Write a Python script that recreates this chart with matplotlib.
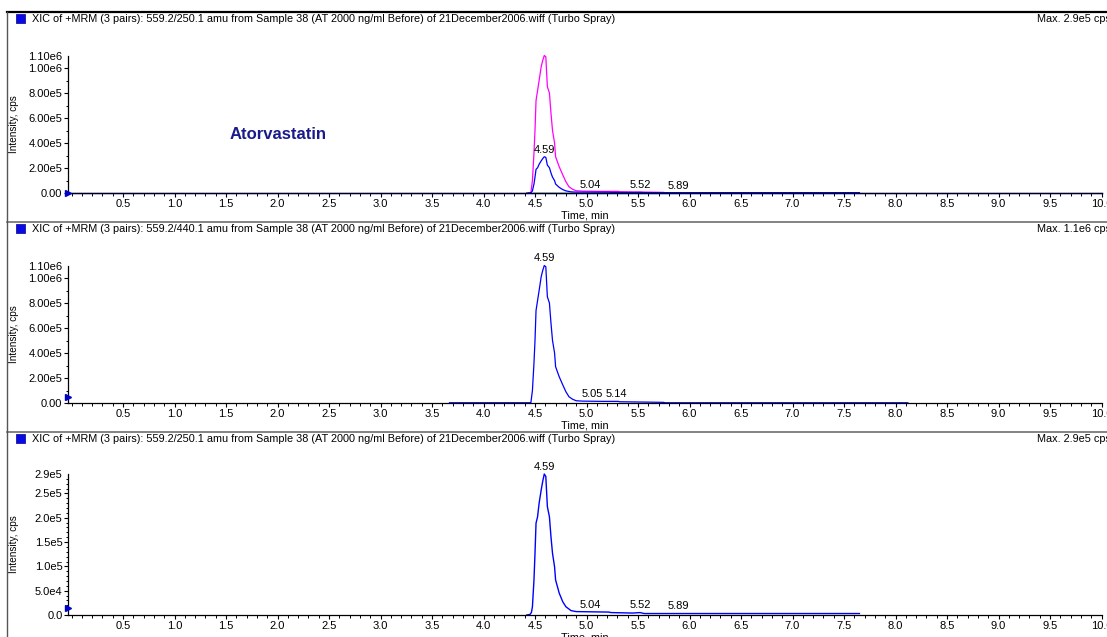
import numpy as np
import matplotlib
matplotlib.use("Agg")
import matplotlib.pyplot as plt
from matplotlib.ticker import MultipleLocator
from matplotlib.patches import Rectangle
from matplotlib.lines import Line2D

plt.rcParams['font.family'] = ['Liberation Sans', 'DejaVu Sans']

# ---------------- data ----------------
# 559.2/250.1 transition (cps)
time_250 = [4.42, 4.45, 4.465, 4.475, 4.49, 4.50, 4.51, 4.525, 4.54, 4.56, 4.575,
            4.59, 4.605, 4.62, 4.64, 4.655, 4.67, 4.69, 4.70, 4.735, 4.77, 4.80,
            4.85, 4.90, 5.22, 5.235, 5.45, 5.52, 5.56, 7.65]
int_250 = [0.0, 1e3, 5e3, 1.7e4, 7.2e4, 1.27e5, 1.89e5, 2.02e5, 2.30e5, 2.57e5, 2.75e5,
           2.90e5, 2.85e5, 2.23e5, 2.02e5, 1.61e5, 1.27e5, 9.9e4, 7.2e4, 4.5e4, 2.7e4, 1.7e4,
           9e3, 7e3, 6e3, 5e3, 4e3, 5e3, 3e3, 3e3]

# 559.2/440.1 transition (cps)
time_440 = [3.67, 4.44, 4.46, 4.475, 4.49, 4.50, 4.51, 4.525, 4.54, 4.56, 4.575,
            4.59, 4.605, 4.62, 4.64, 4.655, 4.67, 4.69, 4.70, 4.735, 4.77, 4.80,
            4.83, 4.865, 4.90, 4.96, 5.15, 5.31, 5.32, 5.60, 5.75, 5.76, 8.12]
int_440 = [2e3, 2e3, 3e3, 1.0e5, 3.2e5, 5.0e5, 7.4e5, 8.2e5, 9.0e5, 1.01e6, 1.06e6,
           1.10e6, 1.09e6, 8.5e5, 8.0e5, 6.4e5, 5.0e5, 4.0e5, 2.9e5, 2.1e5, 1.44e5, 9.0e4,
           5.0e4, 3.0e4, 1.8e4, 1.5e4, 1.3e4, 1.3e4, 1.0e4, 7e3, 5e3, 2e3, 2e3]

# window of the 440.1 overlay that shows in the top panel
overlay_window = [4.44, 5.85]

# third pair (flat) and integration baseline
third_time = [0.0, 10.0]
third_int = [0.0, 0.0]
integ_time = [4.48, 4.87]
integ_int = [0.0, 0.0]

headers = [
    "XIC of +MRM (3 pairs): 559.2/250.1 amu from Sample 38 (AT 2000 ng/ml Before) of 21December2006.wiff (Turbo Spray)",
    "XIC of +MRM (3 pairs): 559.2/440.1 amu from Sample 38 (AT 2000 ng/ml Before) of 21December2006.wiff (Turbo Spray)",
    "XIC of +MRM (3 pairs): 559.2/250.1 amu from Sample 38 (AT 2000 ng/ml Before) of 21December2006.wiff (Turbo Spray)",
]
max_labels = ["Max. 2.9e5 cps", "Max. 1.1e6 cps", "Max. 2.9e5 cps"]
y_tops = [1.10e6, 1.10e6, 2.9e5]

ytick_vals_a = [0, 2e5, 4e5, 6e5, 8e5, 1e6, 1.1e6]
ytick_labels_a = ["0.00", "2.00e5", "4.00e5", "6.00e5", "8.00e5", "1.00e6", "1.10e6"]
ytick_vals_b = [0, 5e4, 1e5, 1.5e5, 2e5, 2.5e5, 2.9e5]
ytick_labels_b = ["0.0", "5.0e4", "1.0e5", "1.5e5", "2.0e5", "2.5e5", "2.9e5"]

xtick_vals = [0.5, 1.0, 1.5, 2.0, 2.5, 3.0, 3.5, 4.0, 4.5, 5.0,
              5.5, 6.0, 6.5, 7.0, 7.5, 8.0, 8.5, 9.0, 9.5, 10.0]
xtick_labels = ["0.5", "1.0", "1.5", "2.0", "2.5", "3.0", "3.5", "4.0", "4.5", "5.0",
                "5.5", "6.0", "6.5", "7.0", "7.5", "8.0", "8.5", "9.0", "9.5", "10.0"]

peaks_p1 = ["4.59", "5.04", "5.52", "5.89"]
peaks_p2 = ["4.59", "5.05", "5.14"]
peaks_p3 = ["4.59", "5.04", "5.52", "5.89"]
thresholds = [0.0, 4.8e4, 1.4e4]

# ---------------- figure ----------------
W, H = 1107, 637
fig = plt.figure(figsize=(W / 100, H / 100), dpi=100)
fig.patch.set_facecolor("white")

def fx(px):
    return px / W

def fy(py):
    return 1 - py / H

BLUE = "#0000ff"
MAG = "#ff00ff"
GREEN = "#008000"
FS = 7.8
FT = 8.0

ax_left, ax_right = 68, 1101.5
panels = [(55.5, 193), (265.5, 403), (474, 615)]
header_y = [19, 229, 439]
sep_y = [12, 222, 432]

axes = []
for i, (top, bot) in enumerate(panels):
    ax = fig.add_axes([fx(ax_left), fy(bot), fx(ax_right - ax_left), (bot - top) / H])
    ax.set_xlim(-0.034, 10.0)
    ax.set_ylim(0, y_tops[i])
    for s in ["top", "right"]:
        ax.spines[s].set_visible(False)
    for s in ["left", "bottom"]:
        ax.spines[s].set_linewidth(0.9)
        ax.spines[s].set_color("black")
    ax.set_xticks(xtick_vals)
    ax.set_xticklabels(xtick_labels)
    ax.xaxis.set_minor_locator(MultipleLocator(0.1))
    if i < 2:
        ax.set_yticks(ytick_vals_a)
        ax.set_yticklabels(ytick_labels_a)
        ax.yaxis.set_minor_locator(MultipleLocator(1e5))
    else:
        ax.set_yticks(ytick_vals_b)
        ax.set_yticklabels(ytick_labels_b)
        ax.yaxis.set_minor_locator(MultipleLocator(1e4))
    ax.yaxis.get_major_ticks()[-1].tick1line.set_visible(False)
    ax.tick_params(axis="both", which="major", direction="out", length=3, width=0.8,
                   labelsize=FT, pad=1)
    ax.tick_params(axis="both", which="minor", direction="out", length=1.8, width=0.7)
    ax.set_ylabel("Intensity, cps", fontsize=7.2)
    ax.yaxis.set_label_coords(-(68 - 14) / (ax_right - ax_left), 0.5)
    ax.yaxis.label.set_va("center")
    ax.set_xlabel("Time, min", fontsize=FS)
    ax.xaxis.set_label_coords(0.5, -23 / (bot - top))
    ax.xaxis.label.set_va("center")
    axes.append(ax)

    # header
    fig.add_artist(Line2D([fx(7), 1], [fy(sep_y[i])] * 2, transform=fig.transFigure,
                          color="black" if i == 0 else "#6e6e6e",
                          lw=1.6 if i == 0 else 1.2))
    fig.add_artist(Rectangle((fx(15.5), fy(header_y[i] + 3.5)), fx(9), 8.5 / H,
                             transform=fig.transFigure, facecolor="#0a0ae6",
                             edgecolor="#00008b", lw=0.5))
    fig.text(fx(32), fy(header_y[i]), headers[i], fontsize=FS, ha="left", va="center")
    fig.text(fx(1037), fy(header_y[i]), max_labels[i], fontsize=FS, ha="left", va="center")

# left border
fig.add_artist(Line2D([fx(7), fx(7)], [fy(12), 0], transform=fig.transFigure,
                      color="#555555", lw=1.0))

def label_peaks(ax, t_arr, i_arr, labels, aligns=None, dx=None):
    for k, lab in enumerate(labels):
        t = float(lab)
        y = np.interp(t, t_arr, i_arr)
        ha = "center" if aligns is None else aligns[k]
        off = 0 if dx is None else dx[k]
        ax.annotate(lab, (t + off, y), xytext=(0, 1.5), textcoords="offset points",
                    ha=ha, va="bottom", fontsize=FT)

# panel 1
ax = axes[0]
t440 = np.array(time_440)
i440 = np.array(int_440)
win = (t440 >= overlay_window[0]) & (t440 <= overlay_window[1])
ax.plot(t440[win], i440[win], color=MAG, lw=0.9, clip_on=False)
ax.plot(integ_time, integ_int, color=GREEN, lw=1.0)
ax.plot(time_250, int_250, color=BLUE, lw=0.9)
ax.plot(third_time, third_int, color=BLUE, lw=1.0, clip_on=False)
label_peaks(ax, time_250, int_250, peaks_p1)
fig.text(fx(278), fy(134), "Atorvastatin", fontsize=12, fontweight="bold",
         color="#1a1a8c", ha="center", va="center")

# panel 2
ax = axes[1]
ax.plot(time_440, int_440, color=BLUE, lw=0.9, clip_on=False)
label_peaks(ax, time_440, int_440, peaks_p2, aligns=["center", "right", "left"],
            dx=[0, 0.11, 0.05])

# panel 3
ax = axes[2]
ax.plot(time_250, int_250, color=BLUE, lw=1.0, clip_on=False)
label_peaks(ax, time_250, int_250, peaks_p3)

# threshold markers at the y axis
for ax, th in zip(axes, thresholds):
    ax.plot([ax.get_xlim()[0]], [th], marker=">", color="#0000cc", markersize=4.5,
            clip_on=False, zorder=5)

fig.savefig("out.png", dpi=100, facecolor="white")
